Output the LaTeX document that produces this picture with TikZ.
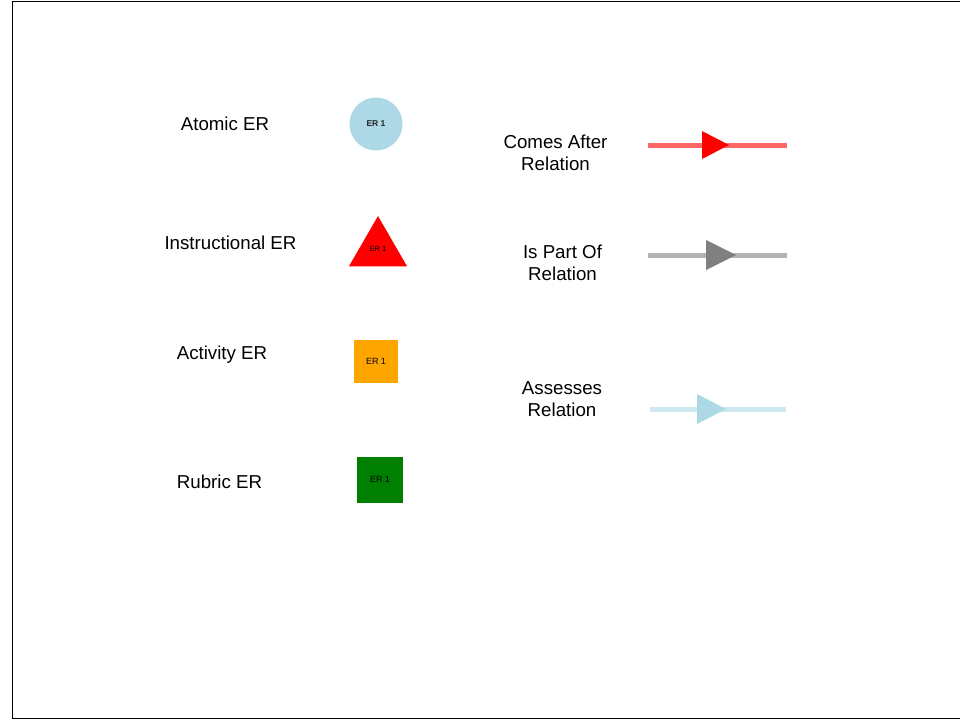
\documentclass[tikz,border=0pt]{standalone}
\usepackage{fontspec}
\setmainfont{Liberation Sans}
\usetikzlibrary{shapes.geometric}
\definecolor{erblue}{RGB}{173,216,230}
\definecolor{erorange}{RGB}{255,165,0}
\definecolor{ergreen}{RGB}{0,128,0}
\definecolor{ergray}{RGB}{128,128,128}
\tikzset{
  lbl/.style={font=\fontsize{18.7}{22}\selectfont, inner sep=0pt, align=center},
  small/.style={font=\fontsize{9}{10}\selectfont, inner sep=0pt, text=black},
  relline/.style={line width=5pt, draw opacity=0.6},
}
\begin{document}
\begin{tikzpicture}[x=1pt,y=-1pt]
\useasboundingbox (0,0) rectangle (960,720);
\draw[line width=1pt] (12.5,1) rectangle (962,718);

% left legend labels
\node[lbl, anchor=base] (tatomic) at (225,130.5) {Atomic ER};
\node[lbl, anchor=base] (tinstr) at (230.5,249.5) {Instructional ER};
\node[lbl, anchor=base] (tact) at (222,359.5) {Activity ER};
\node[lbl, anchor=base] (trub) at (219.5,488.5) {Rubric ER};

% shapes
\node[circle, fill=erblue, minimum size=53pt, inner sep=0pt] (satomic) at (376,124) {};
\node[small, font=\fontsize{8.5}{10}\selectfont\bfseries, text=black!85] (eatomic) at (376,123.5) {ER 1};

\node[regular polygon, regular polygon sides=3, fill=red, minimum size=67pt, inner sep=0pt] (sinstr) at (378,249.5) {};
\node[small, font=\fontsize{7.5}{8}\selectfont] (einstr) at (378,248.5) {ER 1};

\node[rectangle, fill=erorange, minimum width=44pt, minimum height=43pt, inner sep=0pt] (sact) at (376,361.5) {};
\node[small] (eact) at (376,361) {ER 1};

\node[rectangle, fill=ergreen, minimum width=46pt, minimum height=46pt, inner sep=0pt] (srub) at (380,480) {};
\node[small] (erub) at (380,479.5) {ER 1};

% right legend labels
\node[lbl] (tcomes) at (555.5,153) {Comes After\\Relation};
\node[lbl] (tpart) at (562.5,263) {Is Part Of\\Relation};
\node[lbl] (tasses) at (562,399) {Assesses\\Relation};

% relation lines
\coordinate (ca1) at (648,145);
\coordinate (ca2) at (787,145);
\draw[relline, red] (ca1) -- (ca2);
\fill[red] (702,131) -- (729,145) -- (702,159) -- cycle;

\coordinate (pa1) at (648,255);
\coordinate (pa2) at (787,255);
\draw[relline, ergray] (pa1) -- (pa2);
\fill[ergray] (706,240) -- (736,255) -- (706,270) -- cycle;

\coordinate (as1) at (650,409);
\coordinate (as2) at (786,409);
\draw[relline, erblue] (as1) -- (as2);
\fill[erblue] (697,394) -- (726,409) -- (697,424) -- cycle;
\end{tikzpicture}
\end{document}
